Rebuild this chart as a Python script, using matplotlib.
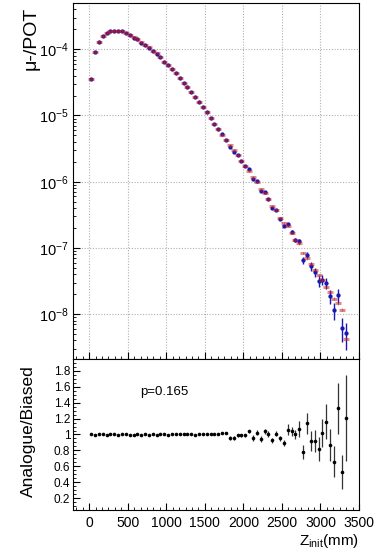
import numpy as np
import matplotlib as mpl
mpl.use('Agg')
import matplotlib.pyplot as plt
from matplotlib.ticker import MultipleLocator, LogLocator, NullFormatter, FixedLocator

mpl.rcParams['font.family'] = 'Liberation Sans'
mpl.rcParams['mathtext.fontset'] = 'custom'
mpl.rcParams['mathtext.rm'] = 'Liberation Sans'
mpl.rcParams['mathtext.it'] = 'Liberation Sans:italic'

# bin centres (mm), 50 mm bins
z = np.arange(25, 3350, 50)

# biased sample, mu-/POT
biased = [3.55e-5, 9.12e-5, 1.31e-4, 1.58e-4, 1.78e-4, 1.88e-4, 1.91e-4, 1.91e-4,
          1.88e-4, 1.76e-4, 1.64e-4, 1.51e-4, 1.41e-4, 1.27e-4, 1.17e-4, 1.07e-4,
          9.55e-5, 8.71e-5, 7.59e-5, 6.53e-5, 5.75e-5, 4.95e-5, 4.32e-5, 3.67e-5,
          3.13e-5, 2.66e-5, 2.29e-5, 1.93e-5, 1.62e-5, 1.33e-5, 1.11e-5, 9.02e-6,
          7.45e-6, 6.15e-6, 5.08e-6, 4.20e-6, 3.53e-6, 2.96e-6, 2.52e-6, 2.05e-6,
          1.72e-6, 1.47e-6, 1.16e-6, 1.00e-6, 7.66e-7, 6.82e-7, 5.41e-7, 4.29e-7,
          3.73e-7, 2.86e-7, 2.37e-7, 2.14e-7, 1.69e-7, 1.32e-7, 1.17e-7, 8.41e-8,
          6.92e-8, 5.75e-8, 4.68e-8, 3.85e-8, 3.24e-8, 2.54e-8, 2.14e-8, 1.72e-8,
          1.45e-8, 1.17e-8, 4.27e-9]
biased_relerr = 0.04

# Analogue/Biased ratio and its error
ratio = [1.00, 0.99, 1.00, 1.00, 0.99, 1.00, 1.00, 0.99, 1.00, 1.00, 0.99, 0.99,
         1.00, 0.99, 1.00, 0.99, 1.00, 0.99, 1.00, 1.00, 0.99, 1.00, 1.01, 1.00,
         1.00, 1.00, 1.00, 0.99, 1.00, 1.00, 1.00, 1.00, 1.01, 1.00, 1.02, 1.02,
         0.955, 0.955, 0.99, 0.99, 0.99, 1.04, 0.955, 1.025, 0.945, 1.04, 1.005,
         0.925, 1.01, 0.95, 0.895,
         1.06, 1.04, 1.00, 1.07, 0.78, 1.14, 0.92, 0.92, 0.82, 1.02, 1.16, 0.87,
         0.66, 1.33, 0.53, 1.21]
ratio_err = [0.005] * 26 + [0.01] * 10 + [0.02] * 6 + [0.035] * 9 + \
            [0.07, 0.06, 0.06, 0.10, 0.09, 0.13, 0.13, 0.135, 0.15, 0.18, 0.22,
             0.20, 0.19, 0.32, 0.21, 0.54]

decades = [1e-8, 1e-7, 1e-6, 1e-5, 1e-4]
ratio_ticks = [0.2, 0.4, 0.6, 0.8, 1.0, 1.2, 1.4, 1.6, 1.8]
ratio_ticklabels = ['0.2', '0.4', '0.6', '0.8', '1', '1.2', '1.4', '1.6', '1.8']

biased = np.array(biased)
ratio = np.array(ratio)
ratio_err = np.array(ratio_err)
analogue = biased * ratio
analogue_err = analogue * ratio_err / ratio

fig = plt.figure(figsize=(3.81, 5.50), dpi=100)
ax1 = fig.add_axes([73/381, 1 - 359/550, 286/381, 356/550])
ax2 = fig.add_axes([73/381, 1 - 510/550, 286/381, 151/550])

# top panel
ax1.errorbar(z, analogue, yerr=analogue_err, fmt='o', color='#1818b8', ms=3.1,
             mew=0, elinewidth=1.0, capsize=0, zorder=3)
ax1.errorbar(z, biased, yerr=biased * biased_relerr, fmt='_', color='#c01818',
             ms=3.8, mew=2.2, elinewidth=0.8, capsize=0, alpha=0.5, zorder=4)
ax1.set_yscale('log')
ax1.set_xlim(-210, 3500)
ax1.set_ylim(2.1e-9, 5e-4)
ax1.grid(True, color='#b0b0b0', ls=(0, (1, 1.5)), lw=0.8)
ax1.xaxis.set_major_locator(MultipleLocator(500))
ax1.xaxis.set_minor_locator(MultipleLocator(500 / 6))
ax1.xaxis.set_major_formatter(NullFormatter())
ax1.yaxis.set_major_locator(FixedLocator(decades))
ax1.yaxis.set_minor_locator(LogLocator(base=10, subs=np.arange(2, 10), numticks=20))
ax1.yaxis.set_minor_formatter(NullFormatter())
ax1.tick_params(axis='y', labelsize=10.5, pad=3)
ax1.set_ylabel(u'\u03bc-/POT', fontsize=14, loc='top')
ax1.yaxis.set_label_coords(-0.118, 0.99)

# ratio panel
ax2.errorbar(z, ratio, yerr=ratio_err, fmt='o', color='black', ms=2.6, mew=0,
             elinewidth=0.9, ecolor='#333333', capsize=0)
ax2.set_xlim(-210, 3500)
ax2.set_ylim(0.05, 1.95)
ax2.xaxis.set_major_locator(MultipleLocator(500))
ax2.xaxis.set_minor_locator(MultipleLocator(500 / 6))
ax2.yaxis.set_minor_locator(MultipleLocator(0.05))
ax2.set_yticks(ratio_ticks)
ax2.set_yticklabels(ratio_ticklabels)
ax2.tick_params(axis='y', labelsize=8.5, pad=2)
ax2.tick_params(axis='x', labelsize=10, pad=4)
ax2.set_ylabel('Analogue/Biased', fontsize=12.5)
ax2.yaxis.set_label_coords(-0.128, 0.52)
ax2.set_xlabel(r'Z$_{\mathregular{init}}$(mm)', fontsize=11, loc='right', labelpad=2)
ax2.text(970, 1.53, 'p=0.165', fontsize=9.5, ha='center', va='center')

for ax in (ax1, ax2):
    ax.tick_params(which='both', direction='in', top=False, right=False)
    ax.tick_params(which='major', length=5)
    ax.tick_params(which='minor', length=2.5)
    for s in ax.spines.values():
        s.set_linewidth(0.8)

fig.savefig('out.png', dpi=100)
